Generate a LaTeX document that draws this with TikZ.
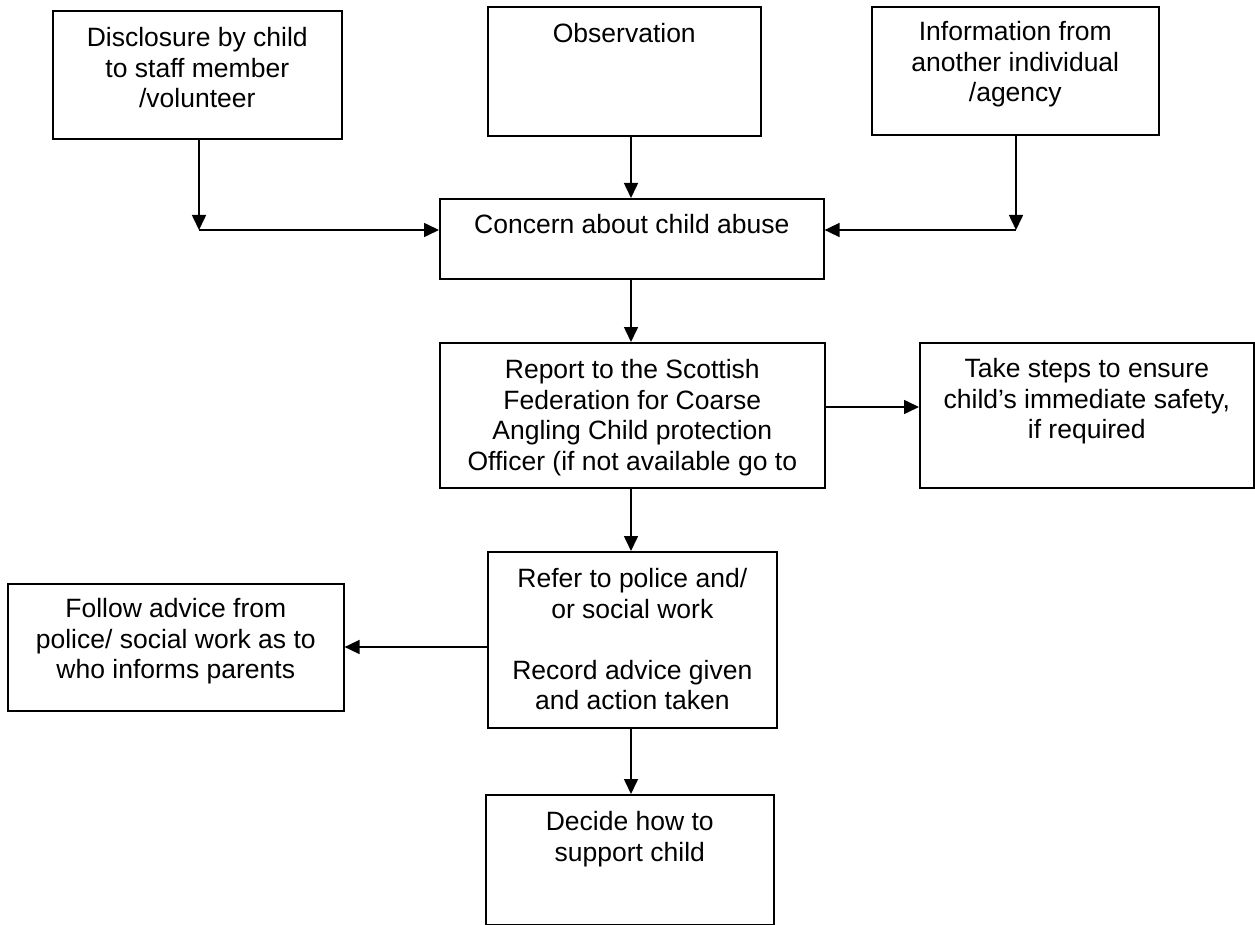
\documentclass[tikz,border=0pt]{standalone}
\usepackage{fontspec}
\setmainfont{Liberation Sans}
\usetikzlibrary{arrows.meta}
\newcommand{\bt}[4]{\parbox[t][#2][t]{#1}{\centering\rule{0pt}{#3}#4}}
\tikzset{
  box/.style={draw, line width=1.6pt, inner sep=0pt, anchor=north west,
    font=\fontsize{26.5pt}{30.5pt}\selectfont},
  conn/.style={line width=1.6pt, -{Triangle[length=15pt,width=14pt]}}
}
\begin{document}
\begin{tikzpicture}[x=1pt,y=-1pt]
\useasboundingbox (0,0) rectangle (1255,925);
\node[box] (d1) at (52,10) {\bt{289pt}{128pt}{36pt}{Disclosure by child\\to staff member\\/volunteer}};
\node[box] (obs) at (487,6) {\bt{273pt}{129pt}{36pt}{Observation}};
\node[box] (inf) at (871,6) {\bt{287pt}{128pt}{34pt}{Information from\\another individual\\/agency}};
\node[box] (con) at (439,198) {\bt{384pt}{80pt}{35pt}{Concern about child abuse}};
\node[box] (rep) at (439,342) {\bt{385pt}{145pt}{36pt}{Report to the Scottish\\Federation for Coarse\\Angling Child protection\\Officer (if not available go to}};
\node[box] (tak) at (919,342) {\bt{334pt}{145pt}{35pt}{Take steps to ensure\\child’s immediate safety,\\if required}};
\node[box] (ref) at (487,551) {\bt{289pt}{176pt}{36pt}{Refer to police and/\\or social work\\[30.5pt]Record advice given\\and action taken}};
\node[box] (fol) at (7,583) {\bt{336pt}{127pt}{34pt}{Follow advice from\\police/ social work as to\\who informs parents}};
\node[box] (dec) at (485,794) {\bt{288pt}{130pt}{36pt}{Decide how to\\support child}};
\coordinate (j1) at (199,230);
\coordinate (j2) at (1016,230);
\draw[conn] (d1.south -| j1) -- (j1);
\draw[conn] (j1) -- (j1 -| con.west);
\draw[conn] (inf.south -| j2) -- (j2);
\draw[conn] (j2) -- (j2 -| con.east);
\coordinate (vx) at (631,0);
\draw[conn] (obs.south -| vx) -- (con.north -| vx);
\draw[conn] (con.south -| vx) -- (rep.north -| vx);
\draw[conn] (rep.south -| vx) -- (ref.north -| vx);
\draw[conn] (ref.south -| vx) -- (dec.north -| vx);
\coordinate (hy1) at (0,407);
\draw[conn] (rep.east |- hy1) -- (tak.west |- hy1);
\coordinate (hy2) at (0,647);
\draw[conn] (ref.west |- hy2) -- (fol.east |- hy2);
\end{tikzpicture}
\end{document}
